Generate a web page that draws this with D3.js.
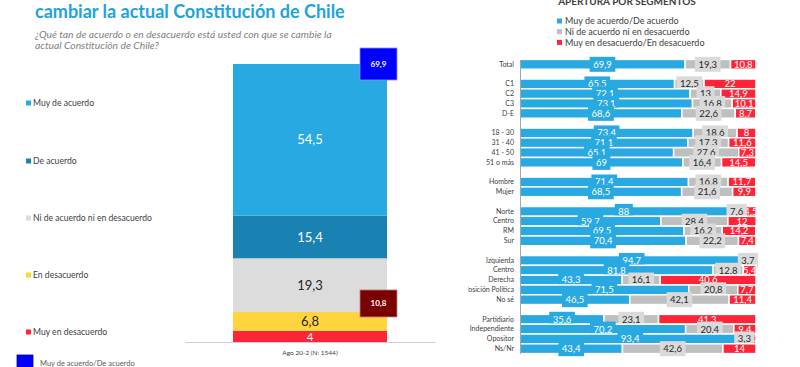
<!DOCTYPE html>
<html>
<head>
<meta charset="utf-8">
<script src="https://cdn.jsdelivr.net/npm/d3@7"></script>
<style>
body { margin: 0; background: #fff; overflow: hidden; }
svg { display: block; font-family: Lato, "Liberation Sans", sans-serif; }
</style>
</head>
<body>
<svg id="viz" width="800" height="367"></svg>
<script>
// left panel: total answer distribution
var period = ["Ago 20-2 (N: 1544)"];
var levels = ["Muy de acuerdo", "De acuerdo", "Ni de acuerdo ni en desacuerdo", "En desacuerdo", "Muy en desacuerdo"];
var levelValues = [54.5, 15.4, 19.3, 6.8, 4];
var summaryNames = ["Muy de acuerdo/De acuerdo", "Muy en desacuerdo/En desacuerdo"];
var summaryValues = [69.9, 10.8];

// right panel: breakdown by segment
var segments = ["Total", "C1", "C2", "C3", "D-E", "18 - 30", "31 - 40", "41 - 50", "51 o más",
  "Hombre", "Mujer", "Norte", "Centro", "RM", "Sur", "Izquierda", "Centro", "Derecha",
  "Sin Posición Política", "No sé", "Partidiario", "Independiente", "Opositor", "Ns/Nr"];
var groupSizes = [1, 4, 4, 2, 4, 5, 4];
var acuerdo = [69.9, 65.5, 72.1, 73.1, 68.6, 73.4, 71.1, 65.1, 69, 71.4, 68.5, 88, 59.7, 69.5, 70.4,
  94.7, 81.8, 43.3, 71.5, 46.5, 35.6, 70.2, 93.4, 43.4];
var neutral = [19.3, 12.5, 13, 16.8, 22.6, 18.6, 17.3, 27.6, 16.4, 16.8, 21.6, 7.6, 28.4, 16.2, 22.2,
  3.7, 12.8, 16.1, 20.8, 42.1, 23.1, 20.4, 3.3, 42.6];
var desacuerdo = [10.8, 22, 14.9, 10.1, 8.7, 8, 11.6, 7.3, 14.5, 11.7, 9.9, 4.5, 12, 14.2, 7.4,
  1.6, 5.4, 40.6, 7.7, 11.4, 41.3, 9.4, 3.3, 14];
var seriesNames = ["Muy de acuerdo/De acuerdo", "Ni de acuerdo ni en desacuerdo", "Muy en desacuerdo/En desacuerdo"];

var levelColors = ["#29a9e1", "#1a82b2", "#dcdcdc", "#ffd43e", "#ff2437"];
var levelText = ["#fff", "#fff", "#262626", "#262626", "#fff"];
var serColors = ["#29a9e1", "#bfbfbf", "#ff2437"];

function fmt(v) { return String(v).replace(".", ","); }

var svg = d3.select("#viz");

// ---- titles
svg.append("text").attr("x", 35).attr("y", 18)
  .attr("font-size", 18).attr("font-weight", 700).attr("fill", "#22a2dd")
  .text("cambiar la actual Constitución de Chile");
var sub = svg.append("text").attr("font-size", 10.3).attr("font-style", "italic").attr("fill", "#7f7f7f");
sub.append("tspan").attr("x", 35).attr("y", 37.5).text("¿Qué tan de acuerdo o en desacuerdo está usted con que se cambie la");
sub.append("tspan").attr("x", 35).attr("y", 48.5).text("actual Constitución de Chile?");

// ---- left stacked bar
var xb = d3.scaleBand().domain(period).range([185, 435]).paddingInner(0).paddingOuter(0.3117);
var yl = d3.scaleLinear().domain([0, 100]).range([342, 64]);

var row = {};
levels.forEach(function(k, i) { row[k] = levelValues[i]; });
var stackL = d3.stack().keys(levels.slice().reverse())([row]);

var left = svg.append("g");
stackL.forEach(function(s) {
  var i = levels.indexOf(s.key);
  var d = s[0];
  left.append("rect")
    .attr("x", xb(period[0])).attr("width", xb.bandwidth())
    .attr("y", yl(d[1])).attr("height", yl(d[0]) - yl(d[1]))
    .attr("fill", levelColors[i]);
  left.append("text")
    .attr("x", xb(period[0]) + xb.bandwidth() / 2)
    .attr("y", (yl(d[0]) + yl(d[1])) / 2)
    .attr("dy", "0.36em").attr("text-anchor", "middle")
    .attr("font-size", i == 4 ? 11.5 : 13).attr("fill", levelText[i])
    .text(fmt(levelValues[i]));
});

var axL = left.append("g").attr("transform", "translate(0,342)")
  .call(d3.axisBottom(xb).tickSize(0).tickPadding(8));
axL.select(".domain").attr("stroke", "#d0d0d0");
axL.selectAll("text").attr("font-size", 6.5).attr("fill", "#404040").attr("font-family", "Lato, sans-serif");

// summary boxes beside the bar
var bx = xb(period[0]) + xb.bandwidth() - 27;
var sumBoxes = [
  {y: yl(100) - 16, h: 32, fill: "#0000ff", stroke: "#8c8cff"},
  {y: yl(summaryValues[1]) - 22, h: 27, fill: "#7b0000", stroke: "#c08080"}
];
sumBoxes.forEach(function(b, i) {
  left.append("rect").attr("x", bx).attr("y", b.y).attr("width", 37).attr("height", b.h)
    .attr("fill", b.fill).attr("stroke", b.stroke).attr("stroke-width", 0.8);
  left.append("text").attr("x", bx + 18.5).attr("y", b.y + b.h / 2).attr("dy", "0.35em")
    .attr("text-anchor", "middle").attr("font-size", 8).attr("font-weight", 700).attr("fill", "#fff")
    .text(fmt(summaryValues[i]));
});

// left legend
var legY = [103, 161, 218, 275, 332];
levels.forEach(function(k, i) {
  left.append("rect").attr("x", 26).attr("y", legY[i] - 2.5).attr("width", 5).attr("height", 5)
    .attr("fill", levelColors[i]);
  left.append("text").attr("x", 33).attr("y", legY[i]).attr("dy", "0.35em")
    .attr("font-size", 8.6).attr("fill", "#404040").text(k);
});
left.append("rect").attr("x", 17).attr("y", 355).attr("width", 16).attr("height", 16)
  .attr("fill", "#0000ff").attr("stroke", "#00008b").attr("stroke-width", 0.8);
left.append("text").attr("x", 40).attr("y", 366).attr("font-size", 7.5).attr("fill", "#595959")
  .text(summaryNames[0]);

// ---- right panel
svg.append("clipPath").attr("id", "rclip").append("rect")
  .attr("x", 468).attr("y", -10).attr("width", 340).attr("height", 400);
var right = svg.append("g").attr("clip-path", "url(#rclip)");

right.append("text").attr("x", 627).attr("y", 5).attr("text-anchor", "middle")
  .attr("font-size", 10).attr("font-weight", 700).attr("fill", "#404040")
  .text("APERTURA POR SEGMENTOS");
var legR = [21, 31.7, 42.4];
seriesNames.forEach(function(n, i) {
  right.append("rect").attr("x", 557).attr("y", legR[i] - 2.5).attr("width", 5).attr("height", 5)
    .attr("fill", serColors[i]);
  right.append("text").attr("x", 565).attr("y", legR[i]).attr("dy", "0.35em")
    .attr("font-size", 9).attr("fill", "#404040").text(n);
});

// one empty slot between groups
var slots = [];
var s = 0;
groupSizes.forEach(function(n, g) {
  for (var j = 0; j < n; j++) slots.push(s++);
  s++;
});
var nSlots = s - 1;

var yr = d3.scaleBand().domain(d3.range(nSlots)).range([59.4, 353.6]).padding(0);
var xr = d3.scaleLinear().domain([0, 100]).range([520, 756]);

var rows = segments.map(function(name, i) {
  return {i: i, name: name, acuerdo: acuerdo[i], neutral: neutral[i], desacuerdo: desacuerdo[i]};
});
var keys = ["acuerdo", "neutral", "desacuerdo"];
var stackR = d3.stack().keys(keys)(rows);

rows.forEach(function(r, i) {
  var g = right.append("g");
  var y0 = yr(slots[i]);
  var h = yr.bandwidth();
  var cy = y0 + h / 2;
  stackR.forEach(function(ser, k) {
    var d = ser[i];
    g.append("rect").attr("x", xr(d[0])).attr("width", xr(d[1]) - xr(d[0]))
      .attr("y", y0).attr("height", h)
      .attr("fill", serColors[k]).attr("stroke", "#fff").attr("stroke-width", 1.5);
  });
  // red label, then boxed blue and grey labels on top
  var dr = stackR[2][i];
  g.append("text").attr("x", (xr(dr[0]) + xr(dr[1])) / 2).attr("y", cy).attr("dy", "0.36em")
    .attr("text-anchor", "middle").attr("font-size", 9.5).attr("fill", "#fff")
    .text(fmt(r.desacuerdo));
  [0, 1].forEach(function(k) {
    var d = stackR[k][i];
    var cx = (xr(d[0]) + xr(d[1])) / 2;
    var box = g.append("rect").attr("fill", k == 0 ? "#29a9e1" : "#dadada");
    var t = g.append("text").attr("x", cx).attr("y", cy).attr("dy", "0.36em")
      .attr("text-anchor", "middle").attr("font-size", 9.5)
      .attr("fill", k == 0 ? "#fff" : "#262626")
      .text(fmt(r[keys[k]]));
    var w = t.node().getComputedTextLength() + 7;
    box.attr("x", cx - w / 2).attr("width", w).attr("y", cy - 7.5).attr("height", 15);
  });
});

var axR = right.append("g").attr("transform", "translate(520,0)")
  .call(d3.axisLeft(yr).tickValues(slots).tickSize(0).tickPadding(6)
    .tickFormat(function(v) { return segments[slots.indexOf(v)]; }));
axR.select(".domain").attr("stroke", "#a6a6a6");
axR.selectAll("text").attr("font-size", 7).attr("fill", "#404040").attr("font-family", "Lato, sans-serif");
</script>
</body>
</html>
